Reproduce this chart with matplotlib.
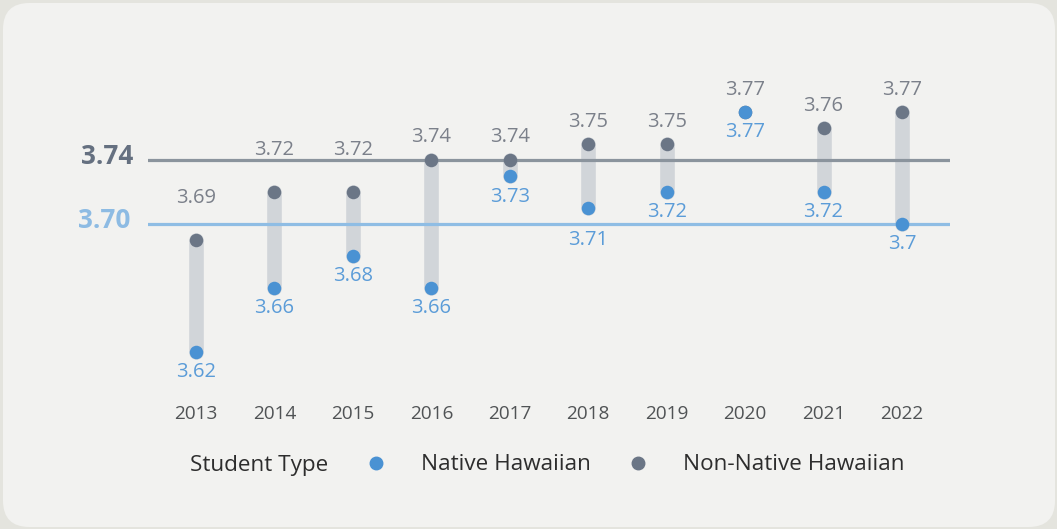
import matplotlib
matplotlib.use('Agg')
import matplotlib.pyplot as plt
from matplotlib.patches import FancyBboxPatch
from matplotlib.lines import Line2D

plt.rcParams['font.family'] = ['Open Sans', 'DejaVu Sans']

years = ['2013', '2014', '2015', '2016', '2017', '2018', '2019', '2020', '2021', '2022']
native = [3.62, 3.66, 3.68, 3.66, 3.73, 3.71, 3.72, 3.77, 3.72, 3.70]
non_native = [3.69, 3.72, 3.72, 3.74, 3.74, 3.75, 3.75, 3.77, 3.76, 3.77]
native_labels = ['3.62', '3.66', '3.68', '3.66', '3.73', '3.71', '3.72', '3.77', '3.72', '3.7']
non_native_labels = ['3.69', '3.72', '3.72', '3.74', '3.74', '3.75', '3.75', '3.77', '3.76', '3.77']
native_avg = 3.70
non_native_avg = 3.74

BLUE = '#4a92d3'
GREY = '#6b7686'
BAR = '#d1d5d9'
BLUE_TXT = '#5b9cd8'
GREY_TXT = '#7b808a'

W, H = 1057, 529
fig = plt.figure(figsize=(W / 100, H / 100), dpi=100)
fig.patch.set_facecolor('#e4e4de')

card = FancyBboxPatch((3 / W, 2 / H), (1052 / W), (524 / H),
                      boxstyle='round,pad=0,rounding_size=0.025',
                      transform=fig.transFigure, facecolor='#f2f2f0',
                      edgecolor='none', mutation_aspect=W / H, zorder=-5)
fig.patches.append(card)

# axes box: x 148..950 px, y 80..385 px (from top)
ax = fig.add_axes([148 / W, 1 - 385 / H, (950 - 148) / W, (385 - 80) / H])
ax.set_zorder(2)
ax.set_facecolor('none')
ax.set_xlim(-0.612, 9.612)
ax.set_ylim(3.599375, 3.79)
for s in ax.spines.values():
    s.set_visible(False)
ax.set_yticks([])
ax.set_xticks(range(len(years)))
ax.set_xticklabels(years, fontsize=13.7, color='#505355')
ax.tick_params(axis='x', length=0, pad=14.5)

x = list(range(len(years)))
ax.vlines(x, native, non_native, color=BAR, linewidth=10.5, capstyle='round', zorder=1)
ax.axhline(non_native_avg, color='#8b949d', linewidth=2.3, zorder=2)
ax.axhline(native_avg, color='#8fbde4', linewidth=2.3, zorder=2)
ax.scatter(x, non_native, s=95, color=GREY, zorder=3, linewidths=0)
ax.scatter(x, native, s=95, color=BLUE, zorder=4, linewidths=0)

# label offsets in pixels (above for the grey series, below for the blue one)
grey_off = [42, 42, 42, 23, 23, 22, 22, 22, 22, 22]
blue_off = [20, 20, 20, 20, 21, 32, 20, 20, 20, 20]
for i in x:
    ax.annotate(non_native_labels[i], (i, non_native[i]), xytext=(0, grey_off[i] * 0.72),
                textcoords='offset points', ha='center', va='center',
                fontsize=14.5, color=GREY_TXT)
    ax.annotate(native_labels[i], (i, native[i]), xytext=(0, -blue_off[i] * 0.72),
                textcoords='offset points', ha='center', va='center',
                fontsize=14.5, color=BLUE_TXT)

ax.annotate(f'{non_native_avg:.2f}', (0, non_native_avg), xycoords=('axes fraction', 'data'),
            xytext=(-15 * 0.72, 3 * 0.72), textcoords='offset points', ha='right', va='center',
            fontsize=18.8, fontweight='bold', color='#657080')
ax.annotate(f'{native_avg:.2f}', (0, native_avg), xycoords=('axes fraction', 'data'),
            xytext=(-18 * 0.72, 3 * 0.72), textcoords='offset points', ha='right', va='center',
            fontsize=18.8, fontweight='bold', color='#8dbbe3')
for c in ax.collections:
    c.set_clip_on(False)

handles = [Line2D([], [], linestyle='none'),
           Line2D([], [], marker='o', linestyle='none', color=BLUE, markersize=9),
           Line2D([], [], marker='o', linestyle='none', color=GREY, markersize=9)]
leg = fig.legend(handles, ['Student Type', 'Native Hawaiian', 'Non-Native Hawaiian'],
                 ncol=3, frameon=False, loc='center', bbox_to_anchor=(519 / W, 1 - 465 / H),
                 fontsize=16.2, handlelength=1.0, handletextpad=1.5, columnspacing=1.6,
                 labelcolor='#2d2d2d')

fig.savefig('out.png', dpi=100, facecolor=fig.get_facecolor())
